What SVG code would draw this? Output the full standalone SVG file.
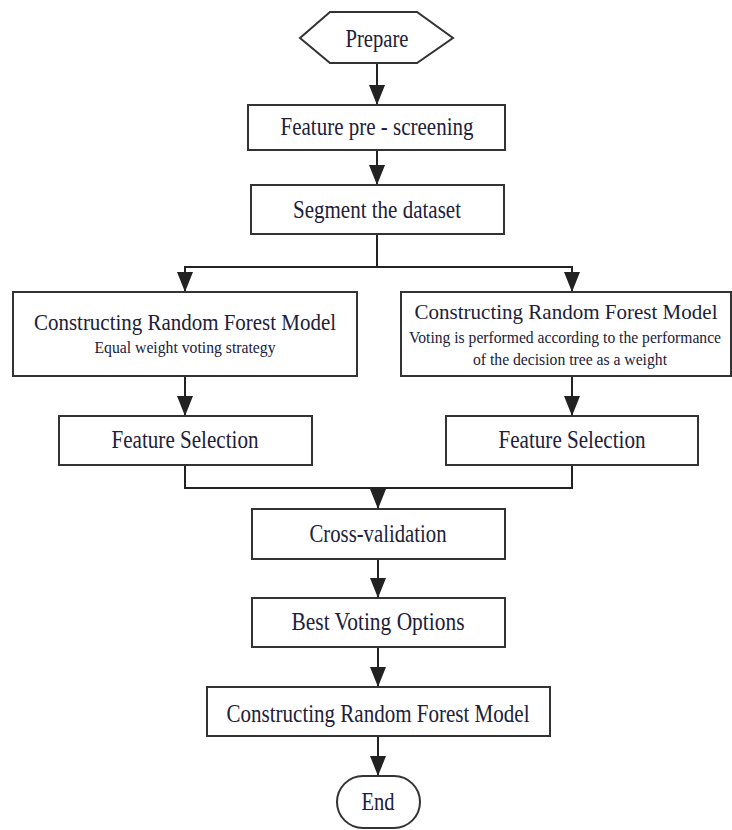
<svg xmlns="http://www.w3.org/2000/svg" width="732" height="830" viewBox="0 0 732 830">
<defs>
<marker id="arr" viewBox="0 0 20 16" refX="20" refY="8" markerWidth="20" markerHeight="16" markerUnits="userSpaceOnUse" orient="auto">
<path d="M0,0 L20,8 L0,16 z" fill="#222"/>
</marker>
<style>
.box{fill:#fff;stroke:#333;stroke-width:2}
.t{font-family:"Liberation Serif","Times New Roman",serif;font-size:25px;fill:#20203a;text-anchor:middle}
.m{font-family:"Liberation Serif","Times New Roman",serif;font-size:24px;fill:#20203a;text-anchor:middle}
.r{font-family:"Liberation Serif","Times New Roman",serif;font-size:22px;fill:#20203a;text-anchor:middle}
.s{font-family:"Liberation Serif","Times New Roman",serif;font-size:17px;fill:#20203a;text-anchor:middle}
.q{font-family:"Liberation Serif","Times New Roman",serif;font-size:16px;fill:#20203a;text-anchor:middle}
.c{fill:none;stroke:#222;stroke-width:2}
</style>
</defs>
<rect width="732" height="830" fill="#fff"/>
<g id="connectors">
<path class="c" d="M377,63 V105" marker-end="url(#arr)"/>
<path class="c" d="M377,150 V185" marker-end="url(#arr)"/>
<path class="c" d="M377,234 V267"/>
<path class="c" d="M184,267 H573"/>
<path class="c" d="M185,267 V292" marker-end="url(#arr)"/>
<path class="c" d="M572,267 V292" marker-end="url(#arr)"/>
<path class="c" d="M185,376 V416" marker-end="url(#arr)"/>
<path class="c" d="M572,376 V416" marker-end="url(#arr)"/>
<path class="c" d="M185,465 V488 H572 V465"/>
<path class="c" d="M378,488 V509" marker-end="url(#arr)"/>
<path class="c" d="M378,559 V598" marker-end="url(#arr)"/>
<path class="c" d="M378,647 V687" marker-end="url(#arr)"/>
<path class="c" d="M378,736 V776" marker-end="url(#arr)"/>
</g>
<g id="prepare">
<polygon class="box" points="300,38 330,12 417,12 453,38 417,63 330,63"/>
<text class="t" x="377" y="47" textLength="63" lengthAdjust="spacingAndGlyphs">Prepare</text>
</g>
<g id="prescreen">
<rect class="box" x="248" y="105" width="257" height="45"/>
<text class="t" x="377" y="135" textLength="193" lengthAdjust="spacingAndGlyphs">Feature pre - screening</text>
</g>
<g id="segment">
<rect class="box" x="251" y="185" width="253" height="49"/>
<text class="t" x="377" y="218" textLength="168" lengthAdjust="spacingAndGlyphs">Segment the dataset</text>
</g>
<g id="rf-left">
<rect class="box" x="13" y="292" width="344" height="84"/>
<text class="m" x="185" y="330" textLength="302" lengthAdjust="spacingAndGlyphs">Constructing Random Forest Model</text>
<text class="s" x="185" y="353" textLength="181" lengthAdjust="spacingAndGlyphs">Equal weight voting strategy</text>
</g>
<g id="rf-right">
<rect class="box" x="401" y="292" width="330" height="84"/>
<text class="r" x="566" y="319" textLength="303" lengthAdjust="spacingAndGlyphs">Constructing Random Forest Model</text>
<text class="q" x="565" y="343" textLength="312" lengthAdjust="spacingAndGlyphs">Voting is performed according to the performance</text>
<text class="q" x="570" y="365" textLength="194" lengthAdjust="spacingAndGlyphs">of the decision tree as a weight</text>
</g>
<g id="fs-left">
<rect class="box" x="59" y="416" width="253" height="49"/>
<text class="t" x="185" y="448" textLength="147" lengthAdjust="spacingAndGlyphs">Feature Selection</text>
</g>
<g id="fs-right">
<rect class="box" x="446" y="416" width="252" height="49"/>
<text class="t" x="572" y="448" textLength="147" lengthAdjust="spacingAndGlyphs">Feature Selection</text>
</g>
<g id="crossval">
<rect class="box" x="252" y="509" width="253" height="50"/>
<text class="t" x="378" y="542" textLength="137" lengthAdjust="spacingAndGlyphs">Cross-validation</text>
</g>
<g id="best">
<rect class="box" x="252" y="598" width="253" height="49"/>
<text class="t" x="378" y="630" textLength="173" lengthAdjust="spacingAndGlyphs">Best Voting Options</text>
</g>
<g id="rf-final">
<rect class="box" x="207" y="687" width="343" height="49"/>
<text class="t" x="378" y="722" textLength="303" lengthAdjust="spacingAndGlyphs">Constructing Random Forest Model</text>
</g>
<g id="end">
<rect class="box" x="337" y="776" width="83" height="52" rx="26" ry="26"/>
<text class="t" x="378" y="810" textLength="33" lengthAdjust="spacingAndGlyphs">End</text>
</g>
</svg>
